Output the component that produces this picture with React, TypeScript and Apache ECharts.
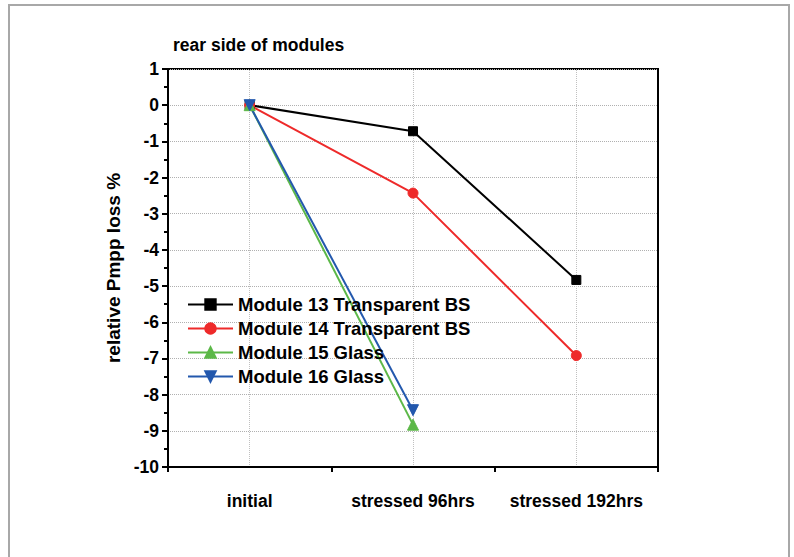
import React, { useEffect, useRef } from "react";
import * as echarts from "echarts";

const categories = ["initial", "stressed 96hrs", "stressed 192hrs"];
const module13 = [0, -0.72, -4.83];
const module14 = [0, -2.43, -6.92];
const module15 = [0, -8.83];
const module16 = [0, -8.43];
const yTicks = { min: -10, max: 1, interval: 1 };

const FONT = "'Liberation Sans', Arial, sans-serif";

export default function App() {
  const ref = useRef<HTMLDivElement>(null);
  useEffect(() => {
    if (!ref.current) return;
    const chart = echarts.init(ref.current, null, { renderer: "svg" });
    const lineSeries = (name: string, data: number[], color: string, symbol: string, size: number, rotate = 0) => ({
      name,
      type: "line",
      data,
      symbol,
      symbolSize: size,
      symbolRotate: rotate,
      showSymbol: true,
      lineStyle: { color, width: 2 },
      itemStyle: { color, borderColor: color, borderWidth: 1, opacity: 1 },
      emphasis: { disabled: true },
      z: 3,
    });
    chart.setOption({
      animation: false,
      textStyle: { fontFamily: FONT },
      title: {
        text: "rear side of modules",
        left: 168,
        top: 31,
        textStyle: { fontFamily: FONT, fontWeight: "bold", fontSize: 17.5, color: "#000" },
      },
      graphic: [
        {
          type: "rect",
          shape: { x: 9, y: 5, width: 780, height: 570 },
          style: { fill: "none", stroke: "#a8a8a8", lineWidth: 2 },
          silent: true,
        },
      ],
      legend: {
        left: 182,
        top: 290,
        orient: "vertical",
        itemWidth: 45,
        itemHeight: 13,
        itemGap: 5,
        data: ["Module 13 Transparent BS", "Module 14 Transparent BS", "Module 15 Glass", "Module 16 Glass"],
        textStyle: { fontFamily: FONT, fontWeight: "bold", fontSize: 18.5, color: "#000" },
      },
      grid: {
        left: 168,
        top: 69,
        right: 136,
        bottom: 90,
        show: true,
        borderColor: "#000",
        borderWidth: 2,
        backgroundColor: "transparent",
      },
      xAxis: [
        {
          type: "category",
          data: categories,
          boundaryGap: true,
          axisLine: { onZero: false, lineStyle: { color: "#000", width: 2 } },
          axisTick: { alignWithLabel: true, length: 8, lineStyle: { color: "#000", width: 2 } },
          axisLabel: {
            interval: 0,
            hideOverlap: false,
            margin: 25,
            fontFamily: FONT,
            fontWeight: "bold",
            fontSize: 17.5,
            color: "#000",
          },
          splitLine: { show: false },
        },
        {
          type: "category",
          data: categories,
          position: "bottom",
          boundaryGap: true,
          axisLine: { show: false, onZero: false },
          axisTick: { show: true, interval: 0, length: 5, lineStyle: { color: "#000", width: 2 } },
          axisLabel: { show: false },
          splitLine: { show: false },
        },
      ],
      yAxis: {
        type: "value",
        min: yTicks.min,
        max: yTicks.max,
        interval: yTicks.interval,
        name: "relative Pmpp loss %",
        nameLocation: "middle",
        nameRotate: 90,
        nameGap: 44,
        nameTextStyle: { fontFamily: FONT, fontWeight: "bold", fontSize: 19, color: "#000" },
        axisLine: { show: true, onZero: false, lineStyle: { color: "#000", width: 2 } },
        axisTick: { show: true, length: 6, lineStyle: { color: "#000", width: 2 } },
        minorTick: { show: true, splitNumber: 2, length: 4, lineStyle: { color: "#000", width: 2 } },
        axisLabel: { margin: 9, fontFamily: FONT, fontWeight: "bold", fontSize: 17.5, color: "#000" },
        splitLine: { show: true, lineStyle: { color: "#b0b0b0", type: "dotted", width: 1 } },
      },
      series: [
        {
          name: "grid-x",
          type: "line",
          data: [],
          z: 0,
          silent: true,
          markLine: {
            z: 0,
            silent: true,
            symbol: "none",
            label: { show: false },
            lineStyle: { color: "#c0c0c0", type: "dotted", width: 1 },
            data: categories.map((c) => ({ xAxis: c })),
          },
        },
        lineSeries("Module 13 Transparent BS", module13, "#000000", "rect", 9),
        lineSeries("Module 14 Transparent BS", module14, "#ee2a2a", "circle", 10),
        lineSeries("Module 15 Glass", module15, "#5cb848", "triangle", 11),
        lineSeries("Module 16 Glass", module16, "#2358ad", "triangle", 11, 180),
      ],
    });
    return () => chart.dispose();
  }, []);
  return (
    <div
      ref={ref}
      style={{ position: "fixed", left: 0, top: 0, width: 794, height: 557, background: "#fff" }}
    />
  );
}
